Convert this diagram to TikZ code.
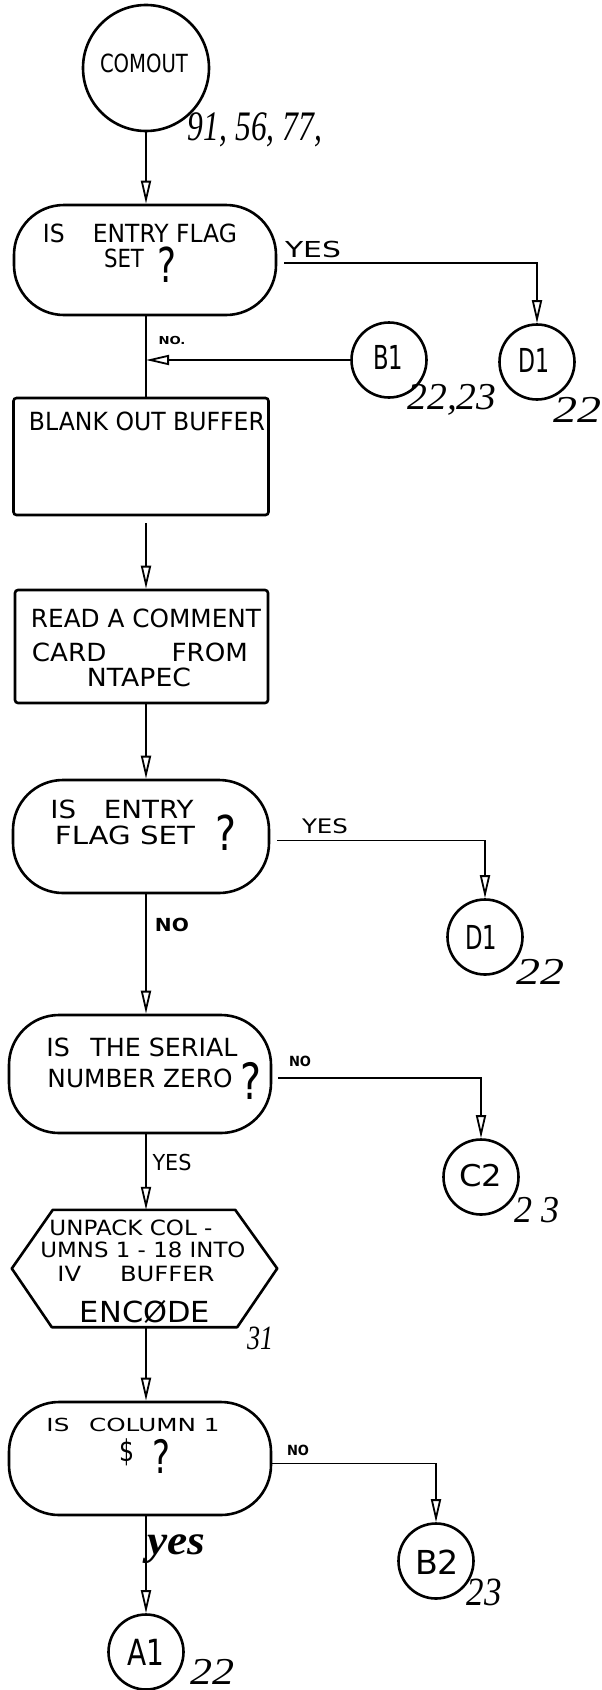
\documentclass[tikz,border=0pt]{standalone}
\usepackage{fontspec}
\usepackage{graphicx}
\setmainfont{DejaVu Sans}
\newfontfamily\penfont{Liberation Serif}
\usetikzlibrary{arrows.meta,calc}

% stretch a piece of lettering to a given width, keeping its height
\newcommand\fitw[2]{\resizebox{#1}{\height}{#2}}
\newcommand\fsz[1]{\fontsize{#1bp}{#1bp}\selectfont}

\begin{document}
\begin{tikzpicture}[x=1bp,y=-1bp,
  shapeline/.style={line width=2.6bp},
  flow/.style={line width=1.8bp},
  arr/.style={flow,-{Triangle[open,length=23bp,width=10bp]}},
  conn/.style={circle,draw,shapeline,minimum size=75bp,inner sep=0pt},
  decision/.style={draw,shapeline,rectangle,rounded corners=50bp,inner sep=0pt},
  procbox/.style={draw,shapeline,rectangle,rounded corners=3bp,inner sep=0pt},
  txt/.style={inner sep=0pt},
  hand/.style={inner sep=0pt,font=\penfont\itshape},
]
\useasboundingbox (0,0) rectangle (602,1690);
\coordinate (spine) at (146,0);

% ---- entry point
\node[conn,minimum size=126bp] (comout) at (146,68) {};
\node[txt] (comoutLbl) at (144,63) {\fsz{25}\fitw{88bp}{COMOUT}};
\node[hand] (comoutRef) at (255,130) {\fsz{42}\fitw{134bp}{91, 56, 77,}};

% ---- first flag test
\node[decision,minimum width=262bp,minimum height=110bp] (dec1) at (145,260) {};
\node[txt] (dec1a) at (140,233) {\fsz{25}\fitw{194bp}{IS\hspace{1.2em}ENTRY FLAG}};
\node[txt] (dec1b) at (124,258) {\fsz{25}\fitw{40bp}{SET}};
\node[txt] (dec1q) at (167,265) {\fsz{48}\fitw{19bp}{?}};
\draw[arr] (comout.south) -- (dec1.north -| spine);

\node[conn] (d1) at (537,362) {};
\node[txt] (d1Lbl) at (534,360) {\fsz{33}\fitw{31bp}{D1}};
\node[hand] (d1Ref) at (577,410) {\fsz{38}\fitw{48bp}{22}};
\draw[arr] ([xshift=7bp,yshift=-3bp]dec1.east) -| (d1.north);
\node[txt] (yes1) at (313,249) {\fsz{22}\fitw{56bp}{YES}};

% ---- blank the buffer
\node[procbox,minimum width=255bp,minimum height=117bp] (box1) at (141,456.5) {};
\node[txt] (box1a) at (147,421) {\fsz{25}\fitw{236bp}{BLANK OUT BUFFER}};

\node[conn] (b1) at (389,360) {};
\node[txt] (b1Lbl) at (388,357) {\fsz{33}\fitw{30bp}{B1}};
\node[hand] (b1Ref) at (452,400) {\fsz{38}\fitw{89bp}{22,23}};
\draw[flow] (dec1.south -| spine) -- (spine |- box1.north);
\draw[arr] (b1.west) -- (b1.west -| spine);
\node[txt] (no1) at (172,340) {\fsz{11}\bfseries\fitw{27bp}{NO.}};

% ---- read a comment card
\node[procbox,minimum width=253bp,minimum height=113bp] (box2) at (141.5,646.5) {};
\node[txt] (box2a) at (146,618) {\fsz{25}\fitw{230bp}{READ A COMMENT}};
\node[txt] (box2b) at (140,652) {\fsz{25}\fitw{216bp}{CARD\hspace{2.5em}FROM}};
\node[txt] (box2c) at (139,677) {\fsz{25}\fitw{104bp}{NTAPEC}};
\draw[arr] ([yshift=-7bp]box1.south -| spine) -- (spine |- box2.north);

% ---- second flag test
\node[decision,minimum width=256bp,minimum height=113bp] (dec2) at (141,836.5) {};
\node[txt] (dec2a) at (122,809) {\fsz{25}\fitw{143bp}{IS\hspace{1em}ENTRY}};
\node[txt] (dec2b) at (125,835) {\fsz{25}\fitw{140bp}{FLAG SET}};
\node[txt] (dec2q) at (226,833) {\fsz{48}\fitw{21bp}{?}};
\draw[arr] (box2.south -| spine) -- (spine |- dec2.north);

\node[conn] (d1b) at (485,937) {};
\node[txt] (d1bLbl) at (481,937) {\fsz{33}\fitw{32bp}{D1}};
\node[hand] (d1bRef) at (540,972) {\fsz{38}\fitw{48bp}{22}};
\draw[arr] ([xshift=7bp,yshift=-4bp]dec2.east) -| (d1b.north);
\node[txt] (yes2) at (325,826) {\fsz{20}\fitw{46bp}{YES}};

% ---- serial number test
\node[decision,minimum width=262bp,minimum height=118bp] (dec3) at (140,1074) {};
\node[txt] (dec3a) at (142,1047) {\fsz{25}\fitw{191bp}{IS\hspace{0.8em}THE SERIAL}};
\node[txt] (dec3b) at (140,1078) {\fsz{25}\fitw{185bp}{NUMBER ZERO}};
\node[txt] (dec3q) at (251,1081) {\fsz{50}\fitw{21bp}{?}};
\draw[arr] (dec2.south -| spine) -- (spine |- dec3.north);
\node[txt] (no2) at (172,925) {\fsz{18}\bfseries\fitw{34bp}{NO}};

\node[conn] (c2) at (481,1177) {};
\node[txt] (c2Lbl) at (481,1176) {\fsz{30}\fitw{43bp}{C2}};
\node[hand] (c2Ref) at (537,1210) {\fsz{38}\fitw{45bp}{2 3}};
\draw[arr] ([xshift=6bp,yshift=-4bp]dec3.east) -| (c2.north);
\node[txt] (no3) at (300,1061) {\fsz{14}\bfseries\fitw{22bp}{NO}};

% ---- unpack into the buffer
\node[inner sep=0pt,minimum width=265bp,minimum height=117bp] (hex) at (144.5,1268.5) {};
\draw[shapeline,line join=round]
  ($(hex.north west)+(41,0)$) -- ($(hex.north east)+(-42,0)$) -- (hex.east)
  -- ($(hex.south east)+(-40,0)$) -- ($(hex.south west)+(40,0)$) -- (hex.west) -- cycle;
\node[txt] (hexa) at (131,1228) {\fsz{21}\fitw{163bp}{UNPACK COL -}};
\node[txt] (hexb) at (143,1250) {\fsz{21}\fitw{205bp}{UMNS 1 - 18 INTO}};
\node[txt] (hexc) at (136,1274) {\fsz{21}\fitw{157bp}{IV\hspace{1.6em}BUFFER}};
\node[txt] (hexd) at (145,1312) {\fsz{29}\fitw{130bp}{ENCØDE}};
\node[hand] (hexRef) at (260,1338) {\fsz{34}\fitw{26bp}{31}};
\draw[arr] (dec3.south -| spine) -- (spine |- hex.north);
\node[txt] (yes3) at (172,1162) {\fsz{22}\fitw{39bp}{YES}};

% ---- column one test
\node[decision,minimum width=262bp,minimum height=113bp] (dec4) at (140,1458.5) {};
\node[txt] (dec4a) at (133,1425) {\fsz{18}\fitw{173bp}{IS\hspace{0.8em}COLUMN 1}};
\node[txt] (dec4d) at (127,1452) {\fsz{30}\fitw{15bp}{\$}};
\node[txt] (dec4q) at (161,1456) {\fsz{46}\fitw{18bp}{?}};
\draw[arr] (hex.south -| spine) -- (spine |- dec4.north);

\node[conn] (b2) at (436,1561) {};
\node[txt] (b2Lbl) at (437,1562) {\fsz{33}\fitw{44bp}{B2}};
\node[hand] (b2Ref) at (484,1592) {\fsz{40}\fitw{35bp}{23}};
\draw[arr] ([yshift=-5bp]dec4.east) -| (b2.north);
\node[txt] (no4) at (298,1450) {\fsz{14}\bfseries\fitw{22bp}{NO}};

\node[conn] (a1) at (146,1652) {};
\node[txt] (a1Lbl) at (146,1652) {\fsz{36}\fitw{37bp}{A1}};
\node[hand] (a1Ref) at (212,1672) {\fsz{38}\fitw{44bp}{22}};
\draw[arr] (dec4.south -| spine) -- (a1.north);
\node[hand] (yes4) at (176,1549) {\fsz{42}\bfseries\fitw{58bp}{yes}};
\end{tikzpicture}
\end{document}
